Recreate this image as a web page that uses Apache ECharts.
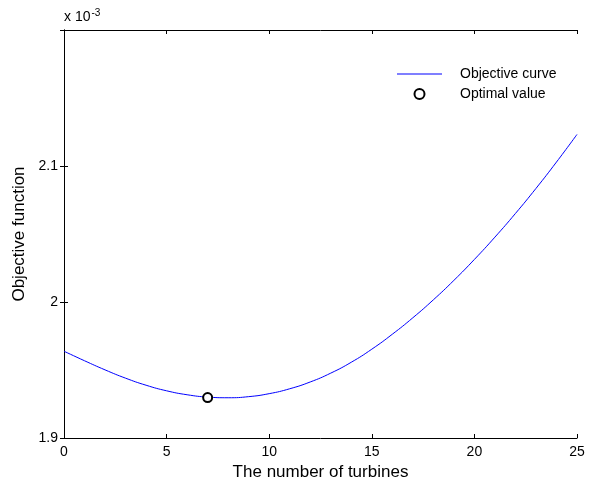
<!DOCTYPE html>
<html>
<head>
<meta charset="utf-8">
<title>Objective function</title>
<script src="https://cdn.jsdelivr.net/npm/echarts@6/dist/echarts.min.js"></script>
<style>
  html, body { margin: 0; padding: 0; background: #fff; }
  #chart { width: 596px; height: 486px; }
</style>
</head>
<body>
<div id="chart"></div>
<script>
// values, y in units of 1e-3
const turbines = [0, 1, 2, 3, 4, 5, 6, 7, 8, 9, 10, 11, 12, 13, 14, 15, 16, 17, 18, 19, 20, 21, 22, 23, 24, 25]
const objective = [1.9638, 1.9568, 1.9501, 1.9440, 1.9388, 1.9347, 1.9318, 1.9301, 1.9296, 1.9304, 1.9326,
    1.9362, 1.9412, 1.9477, 1.9557, 1.9653, 1.9763, 1.9884, 2.0016, 2.0159, 2.0313, 2.0477, 2.0651,
    2.0835, 2.1029, 2.1232]
const optimalPoint = [7, 1.9297]
const xTicks = [0, 25, 5]      // min, max, interval
const yTicks = [1.9, 2.2, 0.1]

const font = 'Liberation Sans, Arial, sans-serif'

const chart = echarts.init(document.getElementById('chart'))

const axisCommon = {
    axisLine: { lineStyle: { color: '#000', width: 1 } },
    axisTick: { inside: true, length: 4, lineStyle: { color: '#000' } },
    splitLine: { show: false }
}

const option = {
    backgroundColor: '#fff',
    animation: false,
    grid: { left: 64, top: 30, right: 19, bottom: 48 },
    legend: {
        orient: 'vertical',
        left: 392,
        top: 61,
        itemWidth: 45,
        itemHeight: 10,
        itemGap: 4,
        textStyle: { fontFamily: font, fontSize: 14, color: '#000', lineHeight: 16, padding: [0, 0, 0, 13] },
        data: [
            // plain line sample, no marker
            { name: 'Objective curve', icon: 'path://M0,0 L45,0 L45,1 L0,1 Z' },
            { name: 'Optimal value' }
        ]
    },
    xAxis: [
        {
            ...axisCommon,
            type: 'value',
            min: xTicks[0], max: xTicks[1], interval: xTicks[2],
            name: 'The number of turbines',
            nameLocation: 'middle',
            nameGap: 26,
            nameTextStyle: { fontFamily: font, fontSize: 17, color: '#000' },
            axisLabel: { fontFamily: font, fontSize: 14, color: '#000', margin: 7 }
        },
        {
            ...axisCommon,
            type: 'value',
            position: 'top',
            min: xTicks[0], max: xTicks[1], interval: xTicks[2],
            axisLabel: { show: false }
        }
    ],
    yAxis: [
        {
            ...axisCommon,
            type: 'value',
            min: yTicks[0], max: yTicks[1], interval: yTicks[2],
            name: 'Objective function',
            nameLocation: 'middle',
            nameGap: 27,
            nameRotate: 90,
            nameTextStyle: { fontFamily: font, fontSize: 17, color: '#000' },
            axisLabel: {
                fontFamily: font, fontSize: 14, color: '#000', margin: 6,
                showMaxLabel: false,
                formatter: v => String(Math.round(v * 10) / 10)
            }
        },
        {
            ...axisCommon,
            type: 'value',
            position: 'right',
            min: yTicks[0], max: yTicks[1], interval: yTicks[2],
            axisLabel: { show: false }
        }
    ],
    graphic: [
        {
            type: 'text',
            left: 64,
            top: 8,
            style: {
                text: 'x 10{sup|-3}',
                fontFamily: font,
                fontSize: 14,
                fill: '#000',
                rich: {
                    sup: { fontFamily: font, fontSize: 10, verticalAlign: 'top', padding: [0, 0, 8, 1] }
                }
            }
        }
    ],
    series: [
        {
            name: 'Objective curve',
            type: 'line',
            data: turbines.map((t, i) => [t, objective[i]]),
            smooth: 0.5,
            symbol: 'none',
            lineStyle: { color: '#0000ff', width: 1 },
            itemStyle: { color: '#0000ff' },
            z: 2
        },
        {
            name: 'Optimal value',
            type: 'scatter',
            data: [optimalPoint],
            symbol: 'circle',
            symbolSize: 9,
            itemStyle: { color: '#fff', borderColor: '#000', borderWidth: 2, opacity: 1 },
            z: 3
        }
    ]
}

chart.setOption(option)
</script>
</body>
</html>
